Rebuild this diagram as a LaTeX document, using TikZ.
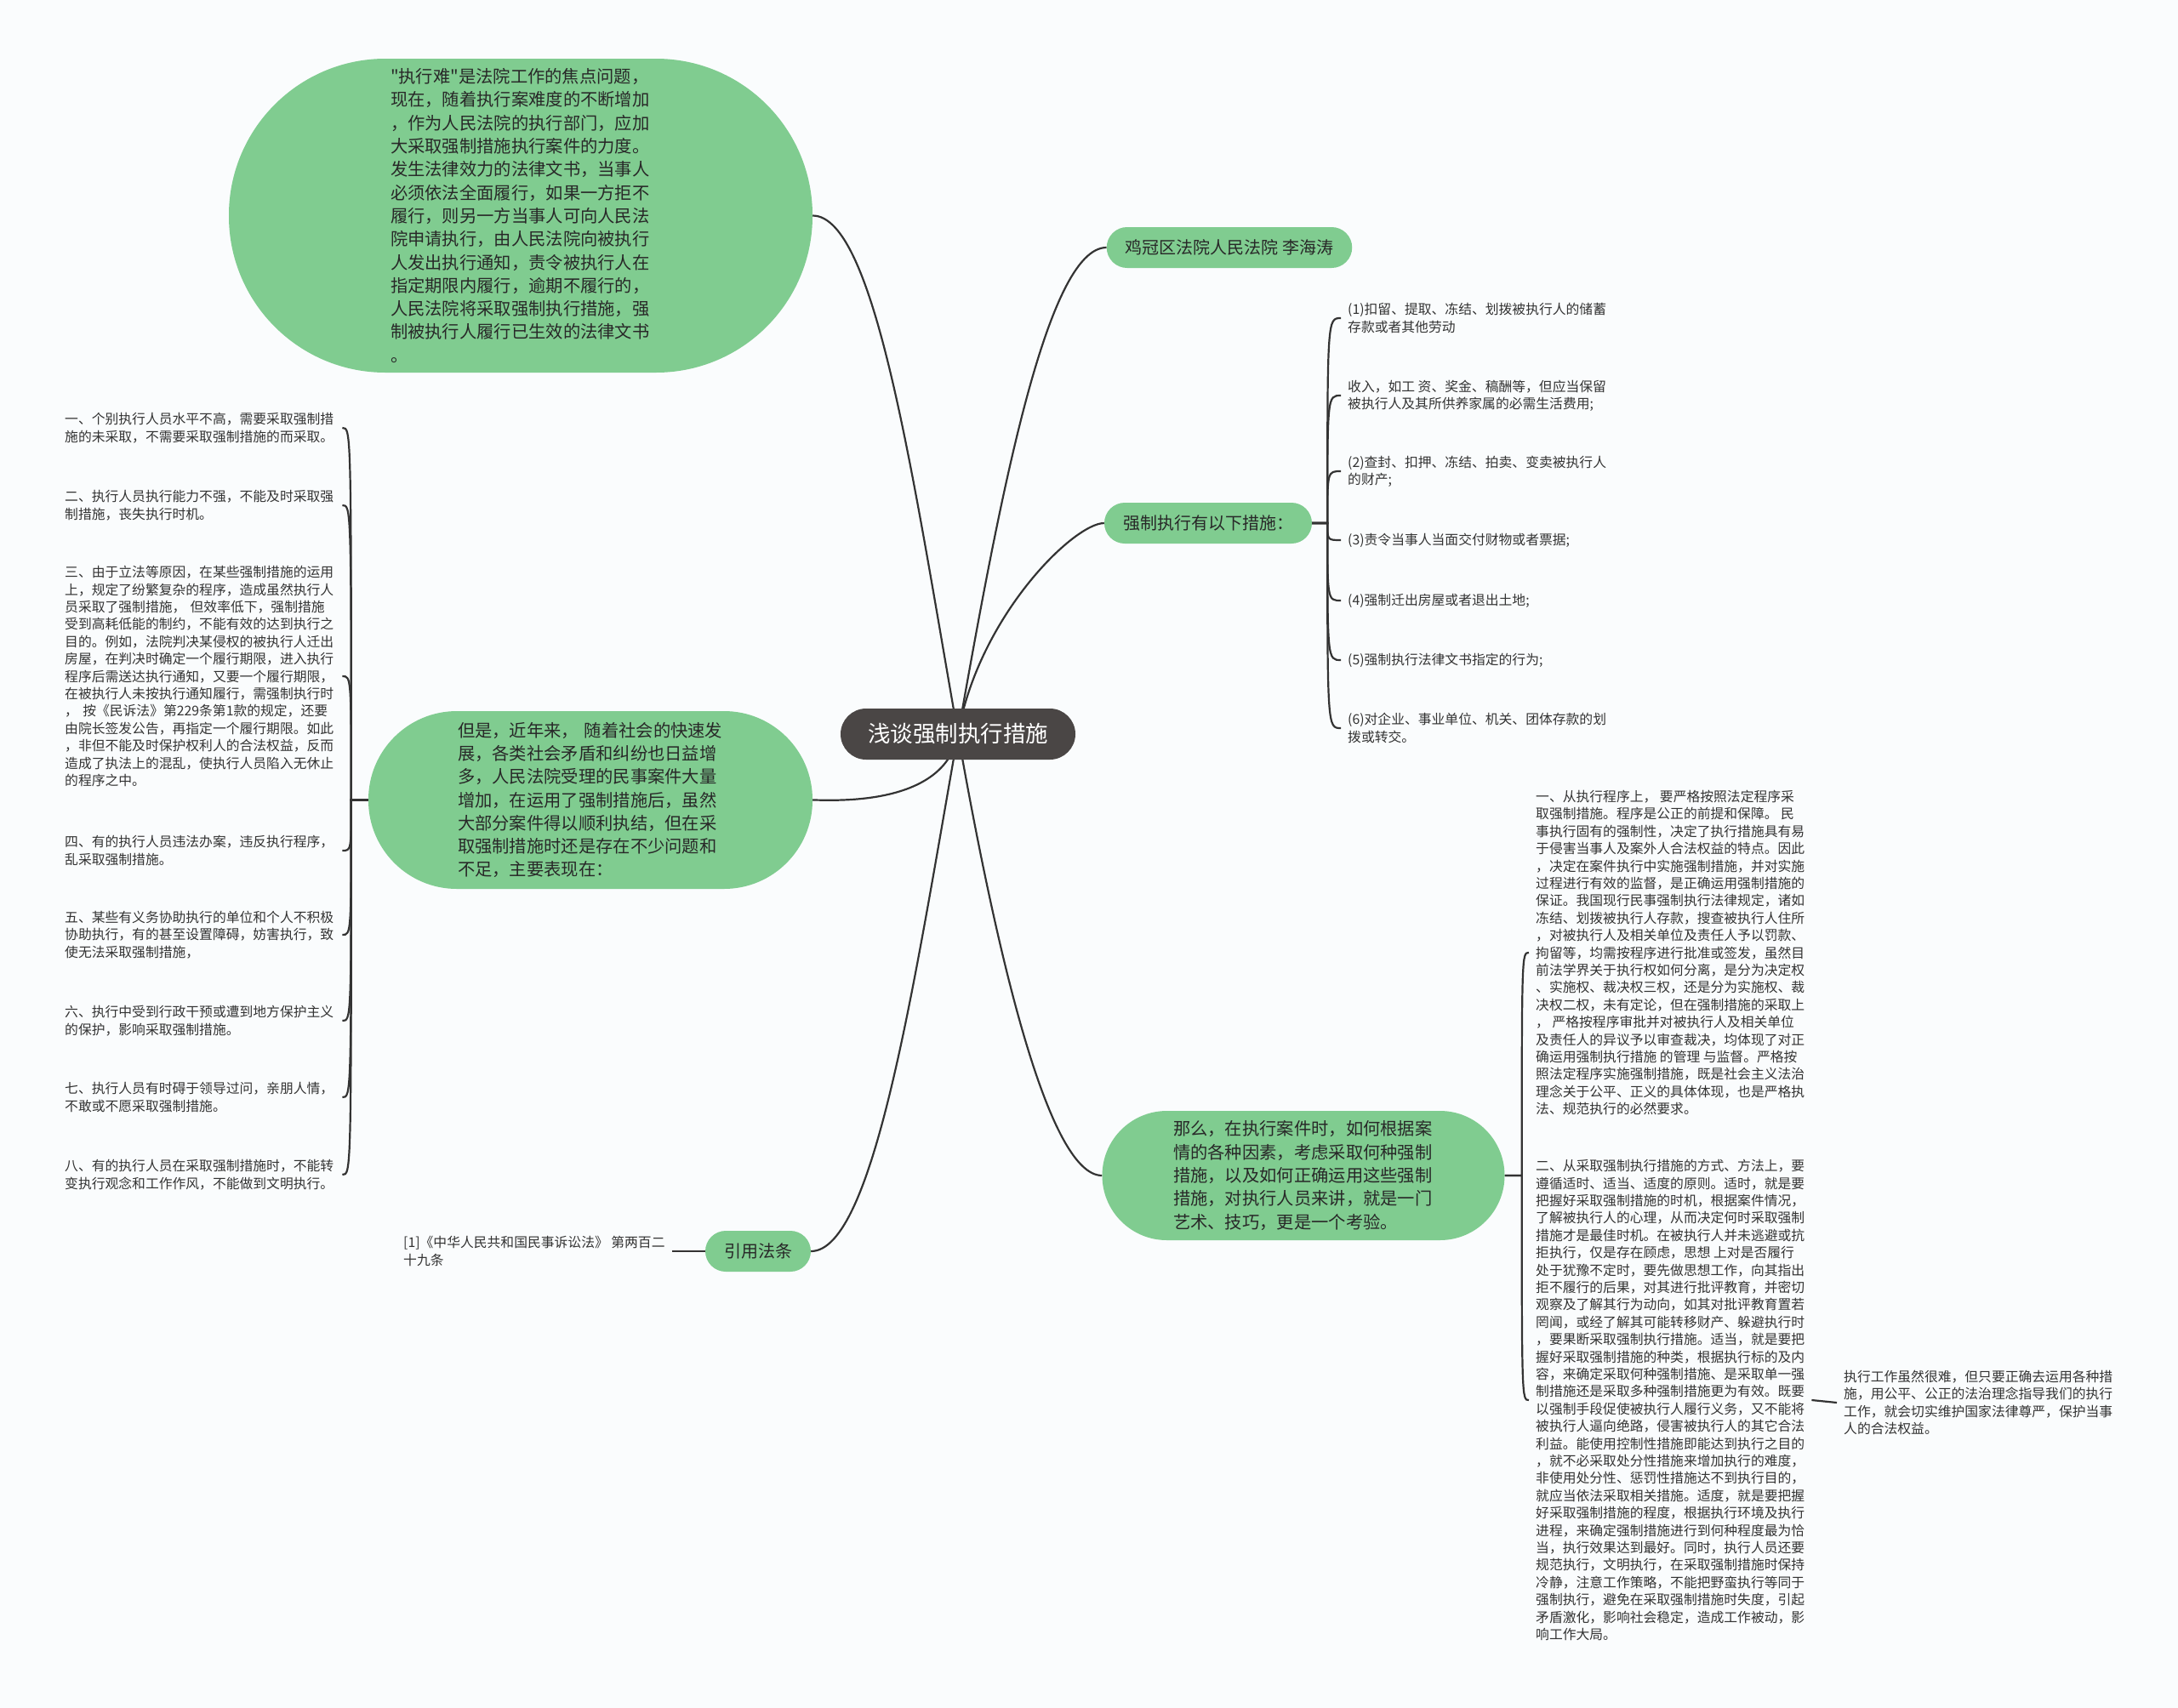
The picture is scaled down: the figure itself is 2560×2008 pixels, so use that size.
\documentclass[tikz,border=0pt]{standalone}
\usepackage{fontspec}
\setmainfont{Noto Sans CJK SC}[Ligatures=TeXOff]
\usetikzlibrary{backgrounds}
\tikzset{
  rootbox/.style={fill={rgb, 255:red, 74; green, 70; blue, 69}, text=white, rounded corners=30pt, minimum height=60pt, inner xsep=32pt, font=\fontsize{26.5}{30}\selectfont},
  bubble/.style={fill={rgb, 255:red, 128; green, 204; blue, 144}, text={rgb, 255:red, 40; green, 40; blue, 40}, font=\fontsize{20.3}{27.3}\selectfont, align=left, inner sep=0pt},
  pill/.style={fill={rgb, 255:red, 128; green, 204; blue, 144}, text={rgb, 255:red, 40; green, 40; blue, 40}, rounded corners=24pt, minimum height=48pt, inner xsep=22pt, font=\fontsize{20}{24}\selectfont},
  note/.style={text={rgb, 255:red, 51; green, 51; blue, 51}, font=\fontsize{15.8}{20.4}\selectfont, align=left, inner sep=8pt, anchor=west},
  link/.style={draw={rgb, 255:red, 51; green, 51; blue, 51}, line width=2.2pt},
}
\begin{document}
\begin{tikzpicture}[x=1pt,y=1pt,yscale=-1]
\useasboundingbox (0,0) rectangle (2560,2008);
\draw (1126,863) node (root) [rootbox] {浅谈强制执行措施};
\draw (612,253.5) node (intro) [bubble, minimum width=686pt, minimum height=369pt, rounded corners=184pt, text width=306pt] {"执行难"是法院工作的焦点问题，\\现在，随着执行案难度的不断增加\\，作为人民法院的执行部门，应加\\大采取强制措施执行案件的力度。\\发生法律效力的法律文书，当事人\\必须依法全面履行，如果一方拒不\\履行，则另一方当事人可向人民法\\院申请执行，由人民法院向被执行\\人发出执行通知，责令被执行人在\\指定期限内履行，逾期不履行的，\\人民法院将采取强制执行措施，强\\制被执行人履行已生效的法律文书\\。};
\draw (694,940.5) node (probs) [bubble, minimum width=522pt, minimum height=209pt, rounded corners=104pt, text width=312pt] {但是，近年来， 随着社会的快速发\\展，各类社会矛盾和纠纷也日益增\\多，人民法院受理的民事案件大量\\增加，在运用了强制措施后，虽然\\大部分案件得以顺利执结，但在采\\取强制措施时还是存在不少问题和\\不足，主要表现在：};
\draw (1532,1382) node (how) [bubble, minimum width=473pt, minimum height=152pt, rounded corners=76pt, text width=306pt] {那么，在执行案件时，如何根据案\\情的各种因素，考虑采取何种强制\\措施，以及如何正确运用这些强制\\措施，对执行人员来讲，就是一门\\艺术、技巧，更是一个考验。};
\draw (1445,291) node (court) [pill] {鸡冠区法院人民法院 李海涛};
\draw (1420,615) node (measures) [pill] {强制执行有以下措施：};
\draw (891,1471) node (law) [pill] {引用法条};
\draw (1576,374) node (m1) [note] {(1)扣留、提取、冻结、划拨被执行人的储蓄\\存款或者其他劳动};
\draw (1576,465) node (m2) [note] {收入，如工 资、奖金、稿酬等，但应当保留\\被执行人及其所供养家属的必需生活费用;};
\draw (1576,554) node (m3) [note] {(2)查封、扣押、冻结、拍卖、变卖被执行人\\的财产;};
\draw (1576,635) node (m4) [note] {(3)责令当事人当面交付财物或者票据;};
\draw (1576,706) node (m5) [note] {(4)强制迁出房屋或者退出土地;};
\draw (1576,776) node (m6) [note] {(5)强制执行法律文书指定的行为;};
\draw (1576,856) node (m7) [note] {(6)对企业、事业单位、机关、团体存款的划\\拨或转交。};
\draw (68,503) node (l1) [note, text width=318pt] {一、个别执行人员水平不高，需要采取强制措\\施的未采取，不需要采取强制措施的而采取。};
\draw (68,594) node (l2) [note, text width=318pt] {二、执行人员执行能力不强，不能及时采取强\\制措施，丧失执行时机。};
\draw (68,795) node (l3) [note, text width=318pt] {三、由于立法等原因，在某些强制措施的运用\\上，规定了纷繁复杂的程序，造成虽然执行人\\员采取了强制措施， 但效率低下，强制措施\\受到高耗低能的制约，不能有效的达到执行之\\目的。例如，法院判决某侵权的被执行人迁出\\房屋，在判决时确定一个履行期限，进入执行\\程序后需送达执行通知，又要一个履行期限，\\在被执行人未按执行通知履行，需强制执行时\\， 按《民诉法》第229条第1款的规定，还要\\由院长签发公告，再指定一个履行期限。如此\\，非但不能及时保护权利人的合法权益，反而\\造成了执法上的混乱，使执行人员陷入无休止\\的程序之中。};
\draw (68,1000) node (l4) [note, text width=318pt] {四、有的执行人员违法办案，违反执行程序，\\乱采取强制措施。};
\draw (68,1099) node (l5) [note, text width=318pt] {五、某些有义务协助执行的单位和个人不积极\\协助执行，有的甚至设置障碍，妨害执行，致\\使无法采取强制措施，};
\draw (68,1200) node (l6) [note, text width=318pt] {六、执行中受到行政干预或遭到地方保护主义\\的保护，影响采取强制措施。};
\draw (68,1290) node (l7) [note, text width=318pt] {七、执行人员有时碍于领导过问，亲朋人情，\\不敢或不愿采取强制措施。};
\draw (68,1381) node (l8) [note, text width=318pt] {八、有的执行人员在采取强制措施时，不能转\\变执行观念和工作作风，不能做到文明执行。};
\draw (1797,1120) node (b1) [note] {一、从执行程序上， 要严格按照法定程序采\\取强制措施。程序是公正的前提和保障。 民\\事执行固有的强制性，决定了执行措施具有易\\于侵害当事人及案外人合法权益的特点。因此\\，决定在案件执行中实施强制措施，并对实施\\过程进行有效的监督，是正确运用强制措施的\\保证。我国现行民事强制执行法律规定，诸如\\冻结、划拨被执行人存款，搜查被执行人住所\\，对被执行人及相关单位及责任人予以罚款、\\拘留等，均需按程序进行批准或签发，虽然目\\前法学界关于执行权如何分离，是分为决定权\\、实施权、裁决权三权，还是分为实施权、裁\\决权二权，未有定论，但在强制措施的采取上\\， 严格按程序审批并对被执行人及相关单位\\及责任人的异议予以审查裁决，均体现了对正\\确运用强制执行措施 的管理 与监督。严格按\\照法定程序实施强制措施，既是社会主义法治\\理念关于公平、正义的具体体现，也是严格执\\法、规范执行的必然要求。};
\draw (1797,1646) node (b2) [note] {二、从采取强制执行措施的方式、方法上，要\\遵循适时、适当、适度的原则。适时，就是要\\把握好采取强制措施的时机，根据案件情况，\\了解被执行人的心理，从而决定何时采取强制\\措施才是最佳时机。在被执行人并未逃避或抗\\拒执行，仅是存在顾虑，思想 上对是否履行\\处于犹豫不定时，要先做思想工作，向其指出\\拒不履行的后果，对其进行批评教育，并密切\\观察及了解其行为动向，如其对批评教育置若\\罔闻，或经了解其可能转移财产、躲避执行时\\，要果断采取强制执行措施。适当，就是要把\\握好采取强制措施的种类，根据执行标的及内\\容，来确定采取何种强制措施、是采取单一强\\制措施还是采取多种强制措施更为有效。既要\\以强制手段促使被执行人履行义务，又不能将\\被执行人逼向绝路，侵害被执行人的其它合法\\利益。能使用控制性措施即能达到执行之目的\\，就不必采取处分性措施来增加执行的难度，\\非使用处分性、惩罚性措施达不到执行目的，\\就应当依法采取相关措施。适度，就是要把握\\好采取强制措施的程度，根据执行环境及执行\\进程，来确定强制措施进行到何种程度最为恰\\当，执行效果达到最好。同时，执行人员还要\\规范执行，文明执行，在采取强制措施时保持\\冷静，注意工作策略，不能把野蛮执行等同于\\强制执行，避免在采取强制措施时失度，引起\\矛盾激化，影响社会稳定，造成工作被动，影\\响工作大局。};
\draw (2159,1649) node (final) [note] {执行工作虽然很难，但只要正确去运用各种措\\施，用公平、公正的法治理念指导我们的执行\\工作，就会切实维护国家法律尊严，保护当事\\人的合法权益。};
\draw (466,1471) node (cite) [note] {[1]《中华人民共和国民事诉讼法》 第两百二\\十九条};
\coordinate (mfork) at ([xshift=18pt]measures.east);
\coordinate (pfork) at ([xshift=-20pt]probs.west);
\coordinate (hfork) at ([xshift=20pt]how.east);
\begin{scope}[on background layer]
\fill[fill={rgb, 255:red, 250; green, 252; blue, 253}] (0,0) rectangle (2560,2008);
\draw[link] (root.center) to[out=-80,in=180,out looseness=1.2,in looseness=0.3] (court.west);
\draw[link] (root.center) to[out=-80,in=180,out looseness=1.2,in looseness=0.3] (measures.west);
\draw[link] (root.center) to[out=80,in=180,out looseness=1.2,in looseness=0.3] (how.west);
\draw[link] (root.center) to[out=-100,in=0,out looseness=1.2,in looseness=0.3] (intro.east);
\draw[link] (root.center) to[out=100,in=0,out looseness=1.2,in looseness=0.3] (probs.east);
\draw[link] (root.center) to[out=100,in=0,out looseness=1.2,in looseness=0.3] (law.east);
\foreach \m in {m1,m2,m3,m4,m5,m6,m7}
  \draw[link] (measures.east) -- (mfork) .. controls (mfork |- \m.west) .. (\m.west);
\foreach \l in {l1,l2,l3,l4,l5,l6,l7,l8}
  \draw[link] (probs.west) -- (pfork) .. controls (pfork |- \l.east) .. (\l.east);
\foreach \b in {b1,b2}
  \draw[link] (how.east) -- (hfork) .. controls (hfork |- \b.west) .. (\b.west);
\draw[link] (b2.east) -- (final.west);
\draw[link] (cite.east) -- (law.west);
\end{scope}
\end{tikzpicture}
\end{document}
